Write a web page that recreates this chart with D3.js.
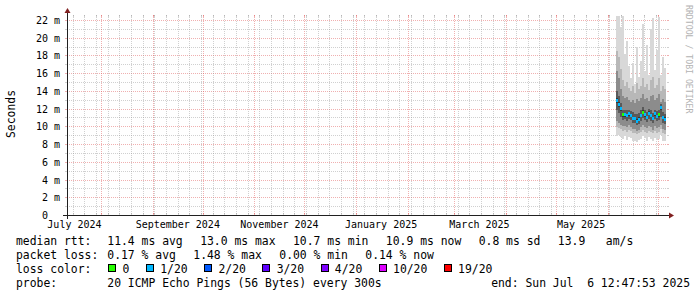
<!DOCTYPE html>
<html>
<head>
<meta charset="utf-8">
<script src="https://cdn.jsdelivr.net/npm/d3@7"></script>
<style>
	body { margin: 0; background: #fff; }
	svg { display: block; font-family: "DejaVu Sans Mono", monospace; }
	text { white-space: pre; }
</style>
</head>
<body>
<svg id="smoke" width="697" height="297"></svg>
<script>
// graph span and axis values
const endTime = new Date(Date.UTC(2025, 6, 6, 12, 47, 53));
const spanDays = 360;
const yMax = 22.56; // ms

// smoke data, one column every 28.8 h starting here
const smokeStart = new Date(Date.UTC(2025, 5, 5, 22, 0));
const stepHours = 28.8;

// sorted ping ranks (ms), 20 pings per probe
const ping1 = [8.9, 9.0, 8.8, 8.6, 8.9, 8.5, 8.8, 8.7, 8.3, 8.4, 8.2, 8.5, 8.6, 8.9, 8.7, 8.4, 8.8, 8.6, 8.3, 8.7, 8.5, 8.6, 9.0, 8.4, 8.3];
const ping3 = [9.9, 9.8, 9.7, 9.5, 9.6, 9.4, 9.6, 9.5, 9.3, 9.2, 9.1, 9.2, 9.4, 9.6, 9.4, 9.3, 9.5, 9.4, 9.2, 9.5, 9.3, 9.4, 9.7, 9.2, 9.1];
const ping5 = [10.6, 10.4, 10.2, 10.0, 10.0, 9.9, 10.1, 9.9, 9.7, 9.7, 9.5, 9.6, 9.9, 10.1, 9.9, 9.8, 10.0, 9.9, 9.6, 10.0, 9.8, 9.9, 10.2, 9.7, 9.6];
const ping8 = [11.8, 11.5, 11.1, 10.7, 10.8, 10.6, 10.8, 10.7, 10.4, 10.4, 10.2, 10.3, 10.6, 10.9, 10.7, 10.5, 10.8, 10.6, 10.4, 10.8, 10.6, 10.7, 11.1, 10.4, 10.3];
const ping10 = [12.6, 12.2, 11.7, 11.1, 11.1, 11.0, 11.2, 11.0, 10.7, 10.7, 10.4, 10.6, 11.0, 11.4, 11.1, 10.8, 11.3, 11.0, 10.7, 11.2, 10.9, 11.1, 11.8, 10.8, 10.6];
const ping11 = [13.2, 12.7, 12.2, 11.5, 11.5, 11.4, 11.6, 11.4, 11.1, 11.1, 10.8, 11.0, 11.4, 11.8, 11.5, 11.2, 11.7, 11.4, 11.1, 11.6, 11.3, 11.5, 12.3, 11.2, 11.0];
const ping13 = [14.0, 13.4, 12.6, 11.9, 11.8, 11.8, 11.9, 11.7, 11.6, 11.4, 11.4, 11.5, 11.8, 12.2, 11.8, 11.6, 12.0, 11.8, 11.5, 11.9, 11.7, 11.9, 12.5, 11.6, 11.4];
const ping16 = [16.2, 15.4, 14.2, 13.4, 13.2, 13.3, 13.0, 12.8, 13.0, 12.6, 13.1, 12.9, 13.2, 13.6, 13.1, 13.2, 12.9, 13.4, 13.5, 13.0, 13.2, 13.6, 12.8, 13.1, 12.8];
const ping18 = [18.5, 17.8, 16.5, 15.2, 14.6, 15.0, 14.3, 14.0, 14.5, 13.8, 14.9, 14.2, 14.6, 15.4, 14.4, 14.8, 14.1, 15.2, 15.6, 14.3, 14.7, 15.5, 14.0, 14.6, 14.2];
const ping20 = [22.5, 22.5, 21.2, 22.4, 18.2, 19.6, 16.8, 15.4, 17.2, 14.8, 19.0, 15.6, 17.4, 21.6, 16.2, 19.2, 15.8, 21.0, 22.2, 16.4, 18.6, 22.3, 15.8, 17.8, 16.6];
const median = [12.9, 12.5, 12.0, 11.3, 11.3, 11.2, 11.4, 11.2, 10.9, 10.9, 10.6, 10.8, 11.2, 11.6, 11.3, 11.0, 11.5, 11.2, 10.9, 11.4, 11.1, 11.3, 12.1, 11.0, 10.8];
// lost pings per probe (out of 20)
const lossPings = [0.05, 0.1, 0.04, 0, 0.08, 0.03, 0.1, 0.06, 0.04, 0.09, 0.02, 0.07, 0.05, 0, 0.04, 0.06, 0.03, 0.05, 0.08, 0.04, 0.06, 0, 0.1, 0.05, 0.03];

// legend values
const rttValues = [11.4, 13.0, 10.7, 10.9, 0.8];
const rttNames = ["avg", "max", "min", "now", "sd"];
const amsValue = 13.9;
const lossValues = [0.17, 1.48, 0.0, 0.14];
const lossNames = ["avg", "max", "min", "now"];
const lossLevels = [0, 1, 2, 3, 4, 10, 19];
const lossColors = ["#26ff00", "#00b8ff", "#0059ff", "#5e00ff", "#7e00ff", "#dd00ff", "#ff0000"];
const probeText = "20 ICMP Echo Pings (56 Bytes) every 300s";

const svg = d3.select("svg#smoke");
const width = +svg.attr("width");

const margin = { top: 15, left: 67 };
const chartWidth = 600;
const chartHeight = 200;
const x0 = margin.left, x1 = margin.left + chartWidth;
const yBottom = margin.top + chartHeight;

const startTime = d3.utcDay.offset(endTime, -spanDays);
const x = d3.scaleUtc([startTime, endTime], [x0, x1]);
const y = d3.scaleLinear([0, yMax], [yBottom, margin.top]);

const minorCol = "rgba(143,143,143,0.42)";
const majorCol = "rgba(222,80,80,0.45)";

const grid = svg.append("g").attr("stroke-width", 1).attr("fill", "none");

// horizontal grid
const yMajor = y.ticks(12);
const yMinor = y.ticks(24).filter((v) => !yMajor.includes(v));
const hLine = (v, col) => {
	const py = Math.round(y(v)) + 0.5;
	grid.append("line").attr("x1", x0 - 2).attr("x2", x0).attr("y1", py).attr("y2", py).attr("stroke", col);
	grid.append("line").attr("x1", x1).attr("x2", x1 + 2).attr("y1", py).attr("y2", py).attr("stroke", col);
	grid.append("line").attr("x1", x0).attr("x2", x1).attr("y1", py).attr("y2", py)
		.attr("stroke", col).attr("stroke-dasharray", "1,1");
};
yMinor.forEach((v) => hLine(v, minorCol));
yMajor.filter((v) => v > 0).forEach((v) => hLine(v, majorCol));

// vertical grid: weeks minor, months major
const months = d3.utcMonth.range(startTime, endTime);
const weeks = d3.utcMonday.range(startTime, endTime)
	.filter((w) => !months.some((m) => +m === +w));
const vLine = (t, col) => {
	const px = Math.round(x(t)) + 0.5;
	grid.append("line").attr("x1", px).attr("x2", px).attr("y1", yBottom - 2).attr("y2", yBottom).attr("stroke", col);
	grid.append("line").attr("x1", px).attr("x2", px).attr("y1", margin.top).attr("y2", margin.top + 2).attr("stroke", col);
	grid.append("line").attr("x1", px).attr("x2", px).attr("y1", margin.top).attr("y2", yBottom)
		.attr("stroke", col).attr("stroke-dasharray", "1,1");
};
weeks.forEach((t) => vLine(t, minorCol));
months.forEach((t) => vLine(t, majorCol));

// smoke
const colTime = (i) => new Date(+smokeStart + i * stepHours * 3600 * 1000);
const bands = [
	[ping1, ping20, "#d8d8d8"],
	[ping3, ping18, "#b8b8b8"],
	[ping5, ping16, "#8c8c8c"],
	[ping8, ping13, "#5a5a5a"],
	[ping10, ping11, "#363636"],
];
const area = d3.area()
	.x((d) => x(d.t))
	.y0((d) => y(d.lo))
	.y1((d) => y(d.hi))
	.curve(d3.curveStepAfter);

const smoke = svg.append("g").attr("shape-rendering", "crispEdges");
bands.forEach(([lo, hi, col]) => {
	const pts = lo.map((v, i) => ({ t: colTime(i), lo: v, hi: hi[i] }));
	pts.push({ t: colTime(lo.length), lo: lo[lo.length - 1], hi: hi[hi.length - 1] });
	smoke.append("path").attr("d", area(pts)).attr("fill", col);
});

const lossColor = (l) => {
	let i = 0;
	while (i < lossLevels.length - 1 && l > lossLevels[i]) i++;
	return lossColors[i];
};

smoke.selectAll("rect.med")
	.data(median)
	.join("rect")
	.attr("class", "med")
	.attr("x", (d, i) => x(colTime(i)))
	.attr("width", (d, i) => x(colTime(i + 1)) - x(colTime(i)))
	.attr("y", (d) => y(d) - 1.5)
	.attr("height", 3)
	.attr("fill", (d, i) => lossColor(lossPings[i]));

// axes
const axisCol = "#202020";
const arrowCol = "#802020";
svg.append("line").attr("x1", x0 - 4).attr("x2", x1 + 4).attr("y1", yBottom + 0.5).attr("y2", yBottom + 0.5)
	.attr("stroke", axisCol).attr("stroke-width", 1.2);
svg.append("line").attr("x1", x0 + 0.5).attr("x2", x0 + 0.5).attr("y1", yBottom + 4).attr("y2", margin.top - 4)
	.attr("stroke", axisCol).attr("stroke-width", 1);
svg.append("path")
	.attr("d", `M${x1 + 2},${yBottom - 2.5}L${x1 + 2},${yBottom + 3.5}L${x1 + 7},${yBottom + 0.5}Z`)
	.attr("fill", arrowCol);
svg.append("path")
	.attr("d", `M${x0 - 2.5},${margin.top - 2}L${x0 + 3.5},${margin.top - 2}L${x0 + 0.5},${margin.top - 7}Z`)
	.attr("fill", arrowCol);

// y labels
svg.append("g")
	.selectAll("text")
	.data(yMajor)
	.join("text")
	.attr("x", 60)
	.attr("y", (d) => Math.round(y(d)) + 3.5)
	.attr("text-anchor", "end")
	.attr("font-size", "10px")
	.text((d) => (d === 0 ? "0  " : `${d} m`));

// x labels: every 2 months, centred half a month after the tick
const labelMonths = d3.utcMonth.every(2).range(d3.utcMonth.floor(startTime), endTime)
	.filter((m) => {
		const c = d3.utcDay.offset(m, 15);
		return c > startTime && c < endTime;
	});
svg.append("g")
	.selectAll("text")
	.data(labelMonths)
	.join("text")
	.attr("x", (d) => x(d3.utcDay.offset(d, 15)))
	.attr("y", 228)
	.attr("text-anchor", "middle")
	.attr("font-size", "10px")
	.text(d3.utcFormat("%B %Y"));

// unit label and watermark
svg.append("text")
	.attr("transform", "translate(14.5,114) rotate(-90)")
	.attr("text-anchor", "middle")
	.attr("font-size", "11.4px")
	.text("Seconds");
svg.append("text")
	.attr("transform", `translate(${width - 11},5) rotate(90)`)
	.attr("font-size", "8.2px")
	.attr("fill", "#b3b3b3")
	.text("RRDTOOL / TOBI OETIKER");

// legend
const charW = 6.85;
const legendX = 16, valueX = 107.3, gap = 17.5;
const legend = svg.append("g").attr("font-size", "11.4px");
const row = (yy, label, items) => {
	legend.append("text").attr("x", legendX).attr("y", yy).text(label);
	let cx = valueX;
	items.forEach((s) => {
		legend.append("text").attr("x", cx).attr("y", yy).text(s);
		cx += s.length * charW + gap;
	});
};
row(245.3, "median rtt:", [
	...rttValues.map((v, i) => `${v.toFixed(1)} ms ${rttNames[i]}`),
	`${amsValue.toFixed(1)}   am/s`,
]);
row(259.3, "packet loss:", lossValues.map((v, i) => `${v.toFixed(2)} % ${lossNames[i]}`));

legend.append("text").attr("x", legendX).attr("y", 273).text("loss color:");
let bx = 108.3;
lossLevels.forEach((lv, i) => {
	const lab = lv === 0 ? "0" : `${lv}/20`;
	legend.append("rect")
		.attr("x", Math.round(bx) + 0.5).attr("y", 264.5)
		.attr("width", 7).attr("height", 7)
		.attr("fill", lossColors[i]).attr("stroke", "#000");
	legend.append("text").attr("x", bx + 14.3).attr("y", 273).text(lab);
	bx += 14.3 + lab.length * charW + 16.5;
});

legend.append("text").attr("x", legendX).attr("y", 287).text("probe:");
legend.append("text").attr("x", valueX).attr("y", 287).text(probeText);
legend.append("text").attr("x", 690).attr("y", 287).attr("text-anchor", "end")
	.text("end: " + d3.utcFormat("%a %b %e %H:%M:%S %Y")(endTime));
</script>
</body>
</html>
